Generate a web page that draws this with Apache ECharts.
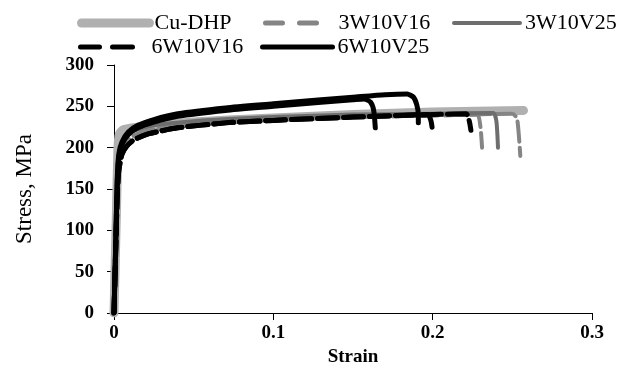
<!DOCTYPE html>
<html>
<head>
<meta charset="utf-8">
<script src="https://cdn.jsdelivr.net/npm/echarts@6/dist/echarts.min.js"></script>
<style>
html,body{margin:0;padding:0;background:#fff;}
#c{width:630px;height:376px;}
</style>
</head>
<body>
<div id="c"></div>
<script>
// Strain (x) / Stress MPa (y) pairs
var cuDHP = [[0,0],[0.0015,120],[0.0025,200],[0.0035,217],[0.006,222],[0.02,226],[0.05,231],[0.1,236],[0.15,240],[0.2,243],[0.257,245]];
var w3v16a = [[0,0],[0.0015,100],[0.003,175],[0.006,200],[0.012,214],[0.025,222],[0.05,228],[0.1,234],[0.15,237],[0.2,239],[0.228,240],[0.23,225],[0.231,200]];
var w3v16b = [[0,0],[0.0015,100],[0.003,175],[0.006,200],[0.012,214],[0.025,222],[0.05,228],[0.1,234],[0.15,237],[0.2,239],[0.25,241],[0.253,235],[0.255,190]];
var w3v25 = [[0,0],[0.0015,110],[0.003,185],[0.006,208],[0.012,220],[0.025,227],[0.05,232],[0.1,237],[0.15,240],[0.2,241],[0.238,242],[0.24,232],[0.241,200]];
var w6v16a = [[0,0],[0.001,70],[0.002,140],[0.003,172],[0.005,192],[0.008,202],[0.013,210],[0.022,217],[0.04,224],[0.07,230],[0.1,233],[0.15,237],[0.2,240],[0.221,241],[0.223,232],[0.224,221]];
var w6v16b = [[0,0],[0.001,70],[0.002,140],[0.003,172],[0.005,192],[0.008,202],[0.013,210],[0.022,217],[0.04,224],[0.07,230],[0.1,233],[0.15,237],[0.197,240],[0.199,232],[0.2,219]];
var w6v25a = [[0,0],[0.001,75],[0.002,155],[0.003,188],[0.005,204],[0.009,216],[0.015,224],[0.025,231],[0.04,238],[0.07,245],[0.1,250],[0.13,255],[0.15,258],[0.157,259],[0.161,255],[0.163,245],[0.164,224]];
var w6v25b = [[0,0],[0.001,78],[0.002,160],[0.003,192],[0.005,207],[0.009,219],[0.015,227],[0.025,234],[0.04,241],[0.07,248],[0.1,253],[0.13,258],[0.15,261],[0.17,264],[0.184,265],[0.188,261],[0.19,252],[0.191,240],[0.191,230]];

var legendNames = ['Cu-DHP','3W10V16','3W10V25','6W10V16','6W10V25'];
var xAxisName = 'Strain';
var yAxisName = 'Stress, MPa';

var FONT = 'Liberation Serif';
function ser(name, data, color, width, type, z) {
  return {
    name: name, type: 'line', data: data, symbol: 'none', z: z, smooth: 0.2,
    lineStyle: {color: color, width: width, type: type, cap: 'round', join: 'round'},
    itemStyle: {color: color},
    animation: false, silent: true
  };
}
function leg(name, left, top, w, lw, dash) {
  return {
    data: [name], left: left, top: top, padding: 0, itemWidth: w, itemHeight: 14, itemGap: 0,
    selectedMode: false,
    itemStyle: {opacity: 0, borderWidth: 0},
    textStyle: {fontFamily: FONT, fontSize: 22, color: '#000', padding: [0,0,0,0]},
    lineStyle: {width: lw, type: dash || 'solid'}
  };
}
var chart = echarts.init(document.getElementById('c'), null, {renderer: 'canvas'});
chart.setOption({
  backgroundColor: '#ffffff',
  animation: false,
  grid: {left: 114, right: 38, top: 65, bottom: 63},
  legend: [
    leg(legendNames[0], 77, 12, 68, 9),
    leg(legendNames[1], 263, 12, 68, 5, [17,17,17,200]),
    leg(legendNames[2], 452, 12, 66, 4),
    leg(legendNames[3], 78, 36, 66, 5, [19,13,20,200]),
    leg(legendNames[4], 260, 36, 70, 5)
  ],
  xAxis: {
    type: 'value', min: 0, max: 0.3, interval: 0.1,
    name: xAxisName, nameLocation: 'middle', nameGap: 34,
    nameTextStyle: {fontFamily: FONT, fontSize: 19, fontWeight: 'bold', color: '#000'},
    axisLine: {show: true, lineStyle: {color: '#000', width: 1}},
    axisTick: {show: true, length: 7, lineStyle: {color: '#000'}},
    axisLabel: {fontFamily: FONT, fontSize: 19, fontWeight: 'bold', color: '#000', margin: 11},
    splitLine: {show: false}
  },
  yAxis: {
    type: 'value', min: 0, max: 300, interval: 50,
    name: yAxisName, nameLocation: 'middle', nameGap: 78, nameRotate: 90,
    nameTextStyle: {fontFamily: FONT, fontSize: 23, color: '#000'},
    axisLine: {show: true, lineStyle: {color: '#000', width: 1}},
    axisTick: {show: true, length: 7, lineStyle: {color: '#000'}},
    axisLabel: {fontFamily: FONT, fontSize: 19, fontWeight: 'bold', color: '#000', margin: 20},
    splitLine: {show: false}
  },
  series: [
    ser('Cu-DHP', cuDHP, '#b0b0b0', 9, 'solid', 1),
    ser('3W10V16', w3v16a, '#858585', 4, [20,6], 2),
    ser('3W10V16 b', w3v16b, '#858585', 4, [20,6], 2),
    ser('3W10V25', w3v25, '#6e6e6e', 4, 'solid', 3),
    ser('6W10V16', w6v16a, '#000000', 5, [20,6], 4),
    ser('6W10V16 b', w6v16b, '#000000', 5, [20,6], 4),
    ser('6W10V25', w6v25a, '#000000', 5, 'solid', 5),
    ser('6W10V25 b', w6v25b, '#000000', 5, 'solid', 5)
  ]
});
</script>
</body>
</html>
